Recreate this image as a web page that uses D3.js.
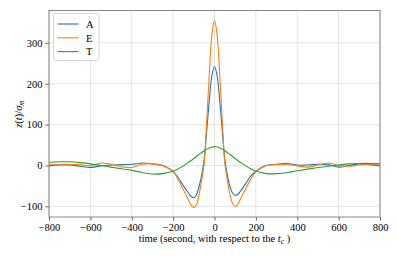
<!DOCTYPE html>
<html>
<head>
<meta charset="utf-8">
<script src="https://cdn.jsdelivr.net/npm/d3@7"></script>
<style>
  body { margin: 0; background: #fff; }
  svg { display: block; font-family: "Liberation Serif", "DejaVu Serif", serif; }
  .tick text { font-size: 10.5px; fill: #000; font-family: "Liberation Serif", "DejaVu Serif", serif; }
</style>
</head>
<body>
<svg width="399" height="256"></svg>
<script>
var times = [-800,-750,-700,-650,-600,-550,-500,-450,-400,-350,-300,-250,-225,-200,-175,-150,-125,-112.5,-100,-87.5,-75,-62.5,-50,-37.5,-25,-12.5,
  0,12.5,25,37.5,50,62.5,75,87.5,100,112.5,125,150,175,200,225,250,300,350,400,450,500,550,600,650,700,750,800];

var seriesA = [-1,1,1,-2,-5,-1,1,2,3,6,4,0,-6,-15,-30,-50,-68,-76,-79,-72,-52,-25,15,85,160,220,
  242,220,160,85,15,-25,-52,-68,-73,-71,-63,-45,-26,-14,-6,0,3,5,1,1,3,2,-4,0,4,2,-1];

var seriesE = [3,3,3,2,-1,6,3,-3,-5,3,4,-1,-6,-14,-35,-60,-86,-97,-103,-96,-72,-38,5,110,225,320,
  355,320,225,110,5,-38,-72,-93,-100,-95,-82,-58,-34,-15,-5,0,2,3,-1,-4,1,6,0,-2,1,3,3];

var seriesT = [8,9,9,7,4,0,-4,-8,-12,-17,-21,-20,-17,-14,-8,-1,8,12,17,22,27,31,36,40,43,45,
  46,45,43,40,36,31,27,22,17,12,8,-1,-8,-14,-17,-20,-20,-17,-13,-9,-5,-2,1,4,5,5,5];

var seriesNames = ['A', 'E', 'T'];
var seriesColors = ['#1f77b4', '#ff7f0e', '#2ca02c'];
var xTicks = [-800,-600,-400,-200,0,200,400,600,800];
var yTicks = [-100,0,100,200,300];

var svg = d3.select('svg');
var plotL = 49, plotR = 380, plotT = 10.5, plotB = 217;

var x = d3.scaleLinear().domain([-800, 800]).range([plotL, plotR]);
var y = d3.scaleLinear().domain([-126, 379]).range([plotB, plotT]);

// grid
svg.append('g')
    .selectAll('line')
    .data(xTicks)
    .enter()
    .append('line')
    .attr('x1', function(d){ return x(d); })
    .attr('x2', function(d){ return x(d); })
    .attr('y1', plotT)
    .attr('y2', plotB)
    .style('stroke', '#e3e3e3')
    .style('stroke-width', 1);

svg.append('g')
    .selectAll('line')
    .data(yTicks)
    .enter()
    .append('line')
    .attr('x1', plotL)
    .attr('x2', plotR)
    .attr('y1', function(d){ return y(d); })
    .attr('y2', function(d){ return y(d); })
    .style('stroke', '#e3e3e3')
    .style('stroke-width', 1);

// lines
var all = [seriesA, seriesE, seriesT];
var line = d3.line()
    .x(function(d, i){ return x(times[i]); })
    .y(function(d){ return y(d); })
    .curve(d3.curveCatmullRom.alpha(0.5));

svg.append('g')
    .selectAll('path')
    .data(all)
    .enter()
    .append('path')
    .attr('d', line)
    .style('fill', 'none')
    .style('stroke', function(d, i){ return seriesColors[i]; })
    .style('stroke-width', 1.1);

// frame
svg.append('rect')
    .attr('x', plotL)
    .attr('y', plotT)
    .attr('width', plotR - plotL)
    .attr('height', plotB - plotT)
    .style('fill', 'none')
    .style('stroke', '#888')
    .style('stroke-width', 1);

var fmt = function(d){ return d < 0 ? '\u2212' + Math.abs(d) : String(d); };

var xAxis = d3.axisBottom(x).tickValues(xTicks).tickFormat(fmt).tickSize(3.5).tickPadding(3);
svg.append('g')
    .attr('class', 'x axis')
    .attr('transform', 'translate(0,' + plotB + ')')
    .call(xAxis);

var yAxis = d3.axisLeft(y).tickValues(yTicks).tickFormat(fmt).tickSize(3.5).tickPadding(3);
svg.append('g')
    .attr('class', 'y axis')
    .attr('transform', 'translate(' + plotL + ',0)')
    .call(yAxis);

svg.selectAll('.axis .domain').remove();
svg.selectAll('.axis .tick line').style('stroke', '#666');

// labels
var xl = svg.append('text')
    .attr('x', 214.5)
    .attr('y', 241.5)
    .attr('text-anchor', 'middle')
    .style('font-size', '10.5px');
xl.append('tspan').text('time (second, with respect to the ');
xl.append('tspan').style('font-style', 'italic').text('t');
xl.append('tspan').attr('dy', 2).style('font-size', '7.5px').style('font-style', 'italic').text('c');
xl.append('tspan').attr('dy', -2).text(' )');

var yl = svg.append('text')
    .attr('transform', 'translate(22,114)rotate(-90)')
    .attr('text-anchor', 'middle')
    .style('font-size', '10.5px');
yl.append('tspan').style('font-style', 'italic').text('z');
yl.append('tspan').text('(');
yl.append('tspan').style('font-style', 'italic').text('t');
yl.append('tspan').text(')/');
yl.append('tspan').style('font-style', 'italic').text('\u03c3');
yl.append('tspan').attr('dy', 2).style('font-size', '7.5px').style('font-style', 'italic').text('m');

// legend
var lg = svg.append('g');
lg.append('rect')
    .attr('x', 53.5)
    .attr('y', 13.5)
    .attr('width', 45.5)
    .attr('height', 47)
    .attr('rx', 2)
    .style('fill', '#fff')
    .style('fill-opacity', 0.8)
    .style('stroke', '#d5d5d5')
    .style('stroke-width', 1);

var items = lg.selectAll('g.item')
    .data(seriesNames)
    .enter()
    .append('g')
    .attr('class', 'item')
    .attr('transform', function(d, i){ return 'translate(0,' + (24 + i * 13.8) + ')'; });

items.append('line')
    .attr('x1', 57.5)
    .attr('x2', 78.5)
    .style('stroke', function(d, i){ return seriesColors[i]; })
    .style('stroke-width', 1.1);

items.append('text')
    .attr('x', 86)
    .attr('y', 3.8)
    .style('font-size', '10.5px')
    .text(function(d){ return d; });
</script>
</body>
</html>
